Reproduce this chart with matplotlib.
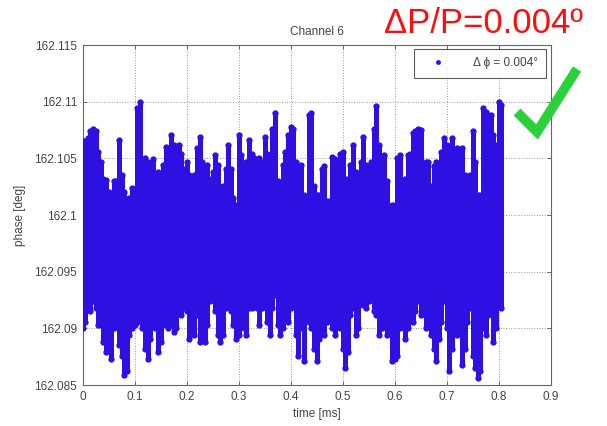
import numpy as np
import matplotlib
matplotlib.use('Agg')
import matplotlib.pyplot as plt
from matplotlib.lines import Line2D

plt.rcParams['font.family'] = ['Liberation Sans', 'DejaVu Sans']

# time grid of the read-off columns (ms)
t_start = 0.0
t_step = 0.005
n_cols = 162

# upper edge of the point cloud at each column (deg)
upper = [
    162.1065, 162.1065, 162.1068, 162.1074, 162.1076, 162.1074, 162.1056, 162.1047, 162.1032, 162.1031,
    162.1020, 162.1018, 162.1030, 162.1030, 162.1066, 162.1035, 162.1020, 162.1012, 162.1015, 162.1024,
    162.1018, 162.1094, 162.1100, 162.1038, 162.1050, 162.1047, 162.1030, 162.1049, 162.1035, 162.1038,
    162.1032, 162.1044, 162.1060, 162.1056, 162.1071, 162.1062, 162.1059, 162.1062, 162.1054, 162.1041,
    162.1047,
    162.1035, 162.1030, 162.1035, 162.1059, 162.1069, 162.1047, 162.1038, 162.1044, 162.1032, 162.1038,
    162.1053, 162.1044, 162.1018, 162.1026, 162.1041, 162.1062, 162.1041, 162.1015, 162.1009, 162.1071,
    162.1053, 162.1032, 162.1047, 162.1066, 162.1054, 162.1050, 162.1047, 162.1050, 162.1047, 162.1069,
    162.1054, 162.1035, 162.1076, 162.1090, 162.1030, 162.1026, 162.1044, 162.1056, 162.1071, 162.1078,
    162.1076, 162.1047, 162.1030, 162.1044, 162.1018, 162.1012, 162.1088, 162.1090, 162.1026, 162.1018,
    162.1018, 162.1041, 162.1043, 162.1012, 162.1012, 162.1051, 162.1049, 162.1041, 162.1054, 162.1056,
    162.1032, 162.1032, 162.1044, 162.1062, 162.1038, 162.1026, 162.1047, 162.1069, 162.1044, 162.1030,
    162.1047, 162.1076, 162.1096, 162.1062, 162.1044, 162.1053, 162.1030, 162.1006, 162.1009, 162.1009,
    162.1050, 162.1053, 162.1030, 162.1032, 162.1053, 162.1054, 162.1072, 162.1074, 162.1076, 162.1075,
    162.1038, 162.1047, 162.1047, 162.1026, 162.1043, 162.1047, 162.1020, 162.1056, 162.1068, 162.1062,
    162.1038, 162.1068, 162.1047, 162.1059, 162.1041, 162.1059, 162.1035, 162.1032, 162.1035, 162.1074,
    162.1047, 162.1018, 162.1018, 162.1094, 162.1091, 162.1088, 162.1088, 162.1071, 162.1062, 162.1100,
    162.1097,
]

# lower edge of the point cloud at each column (deg)
lower = [
    162.0900, 162.0906, 162.0918, 162.0915, 162.0924, 162.0918, 162.0903, 162.0903, 162.0888, 162.0879,
    162.0891, 162.0873, 162.0900, 162.0906, 162.0885, 162.0876, 162.0859, 162.0862, 162.0894, 162.0900,
    162.0903, 162.0906, 162.0915, 162.0900, 162.0882, 162.0873, 162.0891, 162.0906, 162.0900, 162.0879,
    162.0888, 162.0903, 162.0909, 162.0900, 162.0903, 162.0897, 162.0900, 162.0915, 162.0912, 162.0918,
    162.0915,
    162.0891, 162.0900, 162.0894, 162.0912, 162.0888, 162.0906, 162.0888, 162.0903, 162.0924, 162.0929,
    162.0915, 162.0894, 162.0888, 162.0894, 162.0918, 162.0926, 162.0915, 162.0903, 162.0891, 162.0894,
    162.0926, 162.0900, 162.0894, 162.0918, 162.0918, 162.0929, 162.0918, 162.0903, 162.0918, 162.0926,
    162.0906, 162.0894, 162.0918, 162.0929, 162.0903, 162.0894, 162.0900, 162.0915, 162.0906, 162.0918,
    162.0926, 162.0894, 162.0876, 162.0900, 162.0871, 162.0912, 162.0906, 162.0900, 162.0882, 162.0871,
    162.0891, 162.0900, 162.0894, 162.0906, 162.0915, 162.0900, 162.0894, 162.0918, 162.0900, 162.0882,
    162.0865, 162.0879, 162.0912, 162.0918, 162.0894, 162.0900, 162.0924, 162.0921, 162.0918, 162.0924,
    162.0929, 162.0915, 162.0912, 162.0894, 162.0900, 162.0906, 162.0894, 162.0900, 162.0871, 162.0873,
    162.0876, 162.0900, 162.0918, 162.0891, 162.0900, 162.0924, 162.0906, 162.0915, 162.0924, 162.0912,
    162.0918, 162.0900, 162.0906, 162.0894, 162.0882, 162.0871, 162.0891, 162.0906, 162.0924, 162.0900,
    162.0862, 162.0882, 162.0906, 162.0894, 162.0906, 162.0868, 162.0882, 162.0906, 162.0918, 162.0876,
    162.0865, 162.0856, 162.0862, 162.0900, 162.0894, 162.0912, 162.0918, 162.0888, 162.0900, 162.0924,
    162.0918,
]

xticks = [0, 0.1, 0.2, 0.3, 0.4, 0.5, 0.6, 0.7, 0.8, 0.9]
xtick_labels = ['0', '0.1', '0.2', '0.3', '0.4', '0.5', '0.6', '0.7', '0.8', '0.9']
yticks = [162.085, 162.09, 162.095, 162.1, 162.105, 162.11, 162.115]
ytick_labels = ['162.085', '162.09', '162.095', '162.1', '162.105', '162.11', '162.115']

t = t_start + t_step * np.arange(n_cols)

dot_color = '#2e10e2'
txt_color = '#444444'

fig = plt.figure(figsize=(6.07, 4.26), dpi=100)
ax = fig.add_axes([82.5 / 607, 41 / 426, 468 / 607, 340 / 426])

# the dense cloud, drawn column by column
vl = ax.vlines(t, lower, upper, colors=dot_color, linewidth=3.6, zorder=3)
vl.set_capstyle('round')
ax.plot(t, upper, '.', color=dot_color, ms=7, zorder=4, label='\u0394 \u03d5 = 0.004\u00b0')
ax.plot(t, lower, '.', color=dot_color, ms=7, zorder=4)

ax.set_xlim(0, 0.9)
ax.set_ylim(162.085, 162.115)
ax.set_xticks(xticks)
ax.set_xticklabels(xtick_labels)
ax.set_yticks(yticks)
ax.set_yticklabels(ytick_labels)
ax.tick_params(direction='in', length=3, width=0.6, top=True, right=True,
               labelsize=8.5, labelcolor=txt_color, color='#555555', pad=4)
ax.grid(True, linestyle=':', color='#9a9a9a', linewidth=0.7)
ax.set_axisbelow(True)
for s in ax.spines.values():
    s.set_color('#666666')
    s.set_linewidth(0.8)

ax.set_title('Channel 6', fontsize=8.5, color=txt_color, pad=7)
ax.set_xlabel('time [ms]', fontsize=8.5, color=txt_color, labelpad=4)
ax.set_ylabel('phase [deg]', fontsize=8.5, color=txt_color, labelpad=6)

leg = ax.legend(loc='upper right', fontsize=8.5, frameon=True, fancybox=False,
                borderaxespad=0.35, handlelength=2.6, handletextpad=1.7,
                borderpad=0.7, markerscale=0.7)
leg.get_frame().set_edgecolor('#333333')
leg.get_frame().set_linewidth(0.8)
for txt in leg.get_texts():
    txt.set_color(txt_color)

# red annotation at the top right
fig.text(583 / 607, 1 - 33 / 426, '\u0394P/P=0.004\u00ba', color='#ff0d0d',
         fontsize=25, ha='right', va='baseline')

# green check mark
cx = [517, 537, 577]
cy = [112, 132, 69]
fig.add_artist(Line2D([x / 607 for x in cx], [1 - y / 426 for y in cy],
                      color='#2bd13a', linewidth=7, solid_capstyle='butt',
                      solid_joinstyle='miter', transform=fig.transFigure))

fig.savefig('out.png', dpi=100)
